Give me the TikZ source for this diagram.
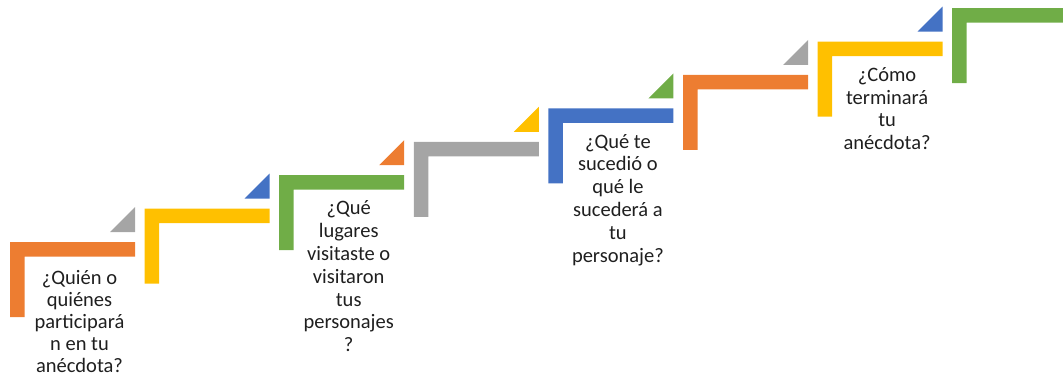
\documentclass[tikz,border=0pt]{standalone}
\usepackage{fontspec}
\setmainfont{Carlito}
\definecolor{cOrange}{HTML}{ED7D31}
\definecolor{cGray}{HTML}{A5A5A5}
\definecolor{cYellow}{HTML}{FFC000}
\definecolor{cBlue}{HTML}{4472C4}
\definecolor{cGreen}{HTML}{70AD47}
\tikzset{
  lbl/.style={font=\fontsize{20.5}{22.8}\selectfont, align=center, anchor=north, inner sep=0pt, text=black!88},
}
\begin{document}
\begin{tikzpicture}[x=1pt,y=-1pt]
\useasboundingbox (0,0) rectangle (1063,377);
\clip (0,0) rectangle (1063,377);
\foreach \i/\c/\tc in {0/cOrange/cGray,1/cYellow/cBlue,2/cGreen/cOrange,3/cGray/cYellow,4/cBlue/cGreen,5/cOrange/cGray,6/cYellow/cBlue,7/cGreen/cOrange}{
  \pgfmathsetmacro\L{10+134.6*\i}
  \pgfmathsetmacro\T{242-33.4*\i}
  \fill[\c] (\L,\T) -- ++(125,0) -- ++(0,14.5) -- ++(-110.5,0) -- ++(0,60.5) -- ++(-14.5,0) -- cycle;
  \fill[\tc] (\L+125,\T-10) -- ++(0,-25) -- ++(-25,25) -- cycle;
}
\node[lbl, font=\fontsize{20.5}{22}\selectfont] (t1) at (79.5,270) {¿Quién o\\quiénes\\participará\\n en tu\\anécdota?};
\node[lbl] (t3) at (348.7,200.7) {¿Qué\\lugares\\visitaste o\\visitaron\\tus\\personajes\\?};
\node[lbl] (t5) at (617.9,133.9) {¿Qué te\\sucedió o\\qué le\\sucederá a\\tu\\personaje?};
\node[lbl] (t7) at (887.1,67.1) {¿Cómo\\terminará\\tu\\anécdota?};
\end{tikzpicture}
\end{document}
